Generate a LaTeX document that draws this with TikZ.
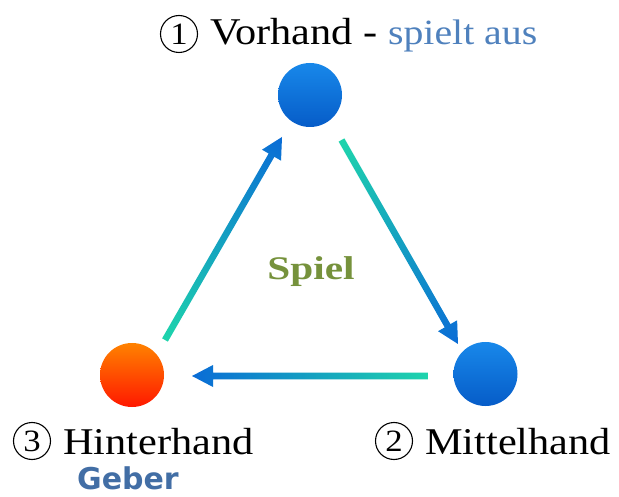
\documentclass[tikz,border=0pt]{standalone}
\usepackage{fontspec}
\setmainfont{Liberation Serif}[FakeStretch=1.12]
\newfontfamily\spielfont{Liberation Serif}[FakeStretch=1.25]
\newfontfamily\geberfont{DejaVu Sans}
\usetikzlibrary{calc}
\definecolor{arrA}{RGB}{30,212,172}
\definecolor{arrM}{RGB}{24,182,226}
\definecolor{arrB}{RGB}{10,108,214}
\definecolor{ballTop}{RGB}{24,136,234}
\definecolor{ballBot}{RGB}{6,92,200}
\definecolor{orTop}{RGB}{255,130,0}
\definecolor{orBot}{RGB}{255,24,0}
\definecolor{subblue}{RGB}{79,129,189}
\definecolor{geberblue}{RGB}{66,110,165}
\definecolor{olive}{RGB}{118,146,60}
\tikzset{
  ball/.style={circle, minimum size=64pt, inner sep=0pt},
  bluebal/.style={ball, top color=ballTop, bottom color=ballBot},
  orangebal/.style={ball, top color=orTop, bottom color=orBot},
  numcirc/.style={circle, draw, line width=1.1pt, minimum size=37pt, inner sep=0pt,
    font=\fontsize{31}{33}\selectfont},
  lbl/.style={anchor=base west, inner sep=0pt, font=\fontsize{37.8}{40}\selectfont},
  arrowshade/.style={left color=arrA, middle color=arrM, right color=arrB},
}
\newcommand\gradarrow[2]{%
  \path let \p1=($(#2)-(#1)$) in \pgfextra{%
    \pgfmathsetmacro\tmplen{veclen(\x1,\y1)}%
    \pgfmathsetmacro\tmpang{atan2(\y1,\x1)}%
    \global\let\arrlen\tmplen\global\let\arrang\tmpang};
  \begin{scope}[transform canvas={shift={(#1)},rotate=\arrang}]
    \shade[arrowshade] (0pt,-3.3pt) -- (\arrlen pt-21pt,-3.3pt) -- (\arrlen pt-21pt,-11pt)
      -- (\arrlen pt,0pt) -- (\arrlen pt-21pt,11pt) -- (\arrlen pt-21pt,3.3pt) -- (0pt,3.3pt) -- cycle;
  \end{scope}}
\begin{document}
\begin{tikzpicture}[x=1pt,y=-1pt]
\useasboundingbox[fill=white] (0,0) rectangle (619,497);
% players
\node[bluebal] (vh) at (310,95) {};
\node[bluebal] (mh) at (485.5,374) {};
\node[orangebal] (hh) at (132,375) {};
% arrow end points
\coordinate (a1s) at (341.5,140);
\coordinate (a1e) at (458,344);
\coordinate (a2s) at (428,376);
\coordinate (a2e) at (192,376);
\coordinate (a3s) at (165,340);
\coordinate (a3e) at (282,137);
\gradarrow{a1s}{a1e}
\gradarrow{a2s}{a2e}
\gradarrow{a3s}{a3e}
% labels
\node[numcirc] (n1) at (179,34) {1};
\node[lbl] (t1) at (210,45) {Vorhand - {\color{subblue}\fontsize{35.5}{37}\selectfont spielt aus}};
\node[numcirc] (n2) at (394,441) {2};
\node[lbl] (t2) at (425,454) {Mittelhand};
\node[numcirc] (n3) at (32,441) {3};
\node[lbl] (t3) at (63,454) {Hinterhand};
\node[anchor=base, inner sep=0pt, text=geberblue, font=\geberfont\bfseries\fontsize{30}{32}\selectfont] (geb) at (128,489) {Geber};
\node[anchor=base, inner sep=0pt, text=olive, font=\spielfont\bfseries\fontsize{33}{35}\selectfont] (sp) at (311,280) {Spiel};
\end{tikzpicture}
\end{document}
